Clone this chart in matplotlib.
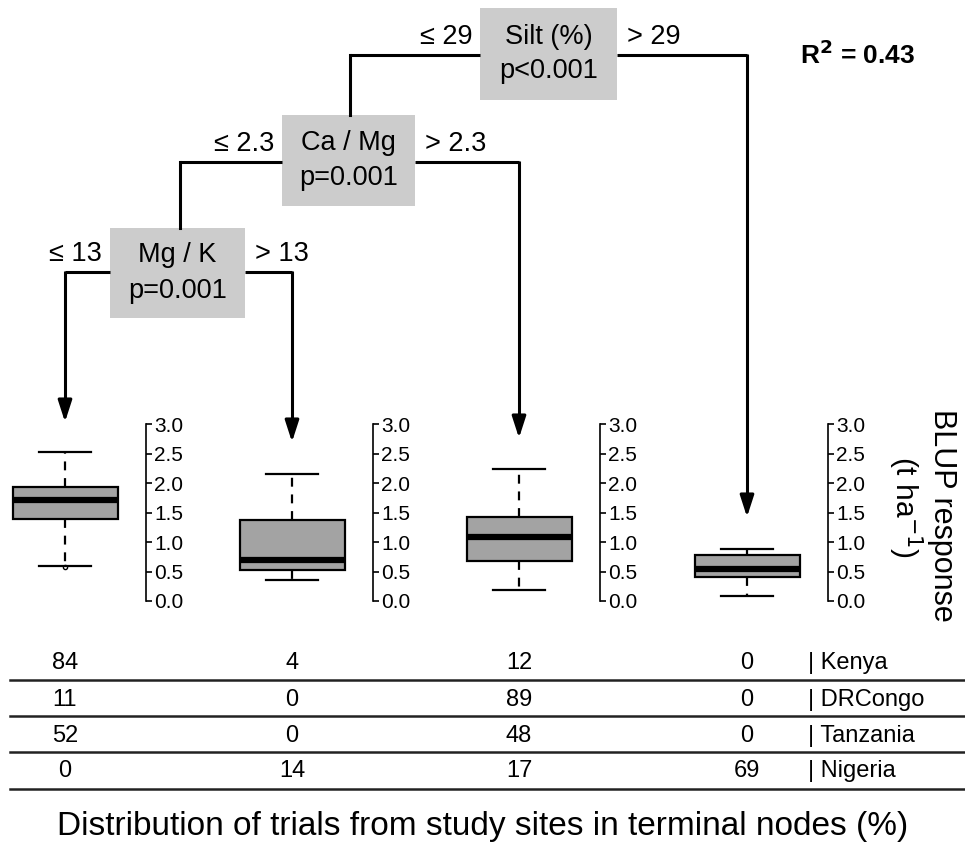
import matplotlib
matplotlib.use("Agg")
import matplotlib.pyplot as plt
from matplotlib.patches import Rectangle
from matplotlib.ticker import FormatStrFormatter

plt.rcParams['font.family'] = ['Liberation Sans', 'DejaVu Sans']

# terminal node boxplots (t/ha)
whisk_lo = [0.59, 0.36, 0.18, 0.09]
q1 = [1.39, 0.52, 0.67, 0.40]
med = [1.71, 0.69, 1.08, 0.55]
q3 = [1.93, 1.38, 1.43, 0.78]
whisk_hi = [2.53, 2.15, 2.24, 0.88]
fliers = [[0.58], [], [], []]
yticks = [0.0, 0.5, 1.0, 1.5, 2.0, 2.5, 3.0]

# splits
nodes = ["Silt (%)\np<0.001", "Ca / Mg\np=0.001", "Mg / K\np=0.001"]
left_lab = ["\u2264 29", "\u2264 2.3", "\u2264 13"]
right_lab = ["> 29", "> 2.3", "> 13"]

# share of trials per site in each terminal node (%)
countries = ["Kenya", "DRCongo", "Tanzania", "Nigeria"]
kenya = [84, 4, 12, 0]
drcongo = [11, 0, 89, 0]
tanzania = [52, 0, 48, 0]
nigeria = [0, 14, 17, 69]
shares = [kenya, drcongo, tanzania, nigeria]

W, H = 965, 847
fig = plt.figure(figsize=(W / 100, H / 100), dpi=100)

# overlay in pixel units for tree and table
ov = fig.add_axes([0, 0, 1, 1])
ov.set_xlim(0, W)
ov.set_ylim(H, 0)
ov.axis("off")

cx = [65, 292, 519, 747]
lw = 2.2

# node boxes: (x0, x1, y0, y1, line_y, left_x, right_x)
node_geo = [
    (480, 617, 8, 100, 55, 350, cx[3]),
    (282, 415, 115, 206, 162, 180, cx[2]),
    (110, 245, 228, 318, 272, cx[0], cx[1]),
]
for (x0, x1, y0, y1, ly, lx, rx), txt, ll, rl in zip(node_geo, nodes, left_lab, right_lab):
    ov.plot([lx, x0], [ly, ly], color="black", lw=lw, solid_capstyle="butt")
    ov.plot([x1, rx], [ly, ly], color="black", lw=lw, solid_capstyle="butt")
    ov.add_patch(Rectangle((x0, y0), x1 - x0, y1 - y0, facecolor="#cccccc", edgecolor="none"))
    ov.text((x0 + x1) / 2, (y0 + y1) / 2, txt, ha="center", va="center",
            fontsize=19.5, linespacing=1.45)
    ov.text(x0 - 8, ly - 5, ll, ha="right", va="bottom", fontsize=19.5)
    ov.text(x1 + 10, ly - 5, rl, ha="left", va="bottom", fontsize=19.5)

# vertical connectors between splits
ov.plot([350, 350], [55, 115], color="black", lw=lw)
ov.plot([180, 180], [162, 228], color="black", lw=lw)

# arrows down to the terminal nodes
arrows = [(cx[0], 272, 422), (cx[1], 272, 442), (cx[2], 162, 438), (cx[3], 55, 517)]
for x, y0, y1 in arrows:
    ov.plot([x, x], [y0 - lw / 2, y1 - 20], color="black", lw=lw, solid_capstyle="butt")
    ov.annotate("", xy=(x, y1), xytext=(x, y1 - 22),
                arrowprops=dict(arrowstyle="-|>,head_length=1.3,head_width=0.42",
                                color="black", lw=lw, shrinkA=0, shrinkB=0))

ov.text(858, 55, "R$^\\mathbf{2}$ = 0.43", ha="center", va="center", fontsize=19,
        fontweight="bold")

# boxplot panels
top_px, bot_px = 424, 601
for i in range(4):
    left, right = cx[i] - 60, cx[i] + 81
    ax = fig.add_axes([left / W, 1 - bot_px / H, (right - left) / W, (bot_px - top_px) / H])
    ax.set_xlim(-60, 81)
    ax.set_ylim(0, 3)
    stats = [dict(whislo=whisk_lo[i], q1=q1[i], med=med[i], q3=q3[i],
                  whishi=whisk_hi[i], fliers=fliers[i])]
    ax.bxp(stats, positions=[0], widths=105, capwidths=52, patch_artist=True,
           boxprops=dict(facecolor="#a3a3a3", edgecolor="black", lw=1.6),
           medianprops=dict(color="black", lw=4.5, solid_capstyle="butt"),
           whiskerprops=dict(color="black", lw=1.6, linestyle=(0, (4, 3.5))),
           capprops=dict(color="black", lw=1.6),
           flierprops=dict(marker="o", markersize=3, markerfacecolor="none",
                           markeredgecolor="black", markeredgewidth=1))
    for s in ["left", "top", "bottom"]:
        ax.spines[s].set_visible(False)
    ax.spines["right"].set_linewidth(1.2)
    ax.spines["right"].set_bounds(0, 3)
    ax.patch.set_visible(False)
    ax.set_xticks([])
    ax.yaxis.tick_right()
    ax.set_yticks(yticks)
    ax.yaxis.set_major_formatter(FormatStrFormatter("%.1f"))
    ax.tick_params(axis="y", direction="out", length=4, width=1.2, pad=2,
                   labelsize=15)
    for line in ax.lines + ax.patches:
        line.set_clip_on(False)

ov.text(942, 515, "BLUP response", rotation=-90, ha="center", va="center",
        fontsize=22)
ov.text(905, 507, "(t ha$^{-1}$)", rotation=-90, ha="center", va="center",
        fontsize=21.5)

# table of site shares
row_y = [663, 700, 736, 771]
rule_y = [680, 716, 752, 789]
for r, (name, vals) in enumerate(zip(countries, shares)):
    for x, v in zip(cx, vals):
        ov.text(x, row_y[r], str(v), ha="center", va="center", fontsize=17)
    ov.text(808, row_y[r], "| " + name, ha="left", va="center", fontsize=17)
    ov.plot([10, W], [rule_y[r], rule_y[r]], color="#222222", lw=1.8)

ov.text(483, 826, "Distribution of trials from study sites in terminal nodes (%)",
        ha="center", va="center", fontsize=24)

fig.savefig("out.png", dpi=100)
